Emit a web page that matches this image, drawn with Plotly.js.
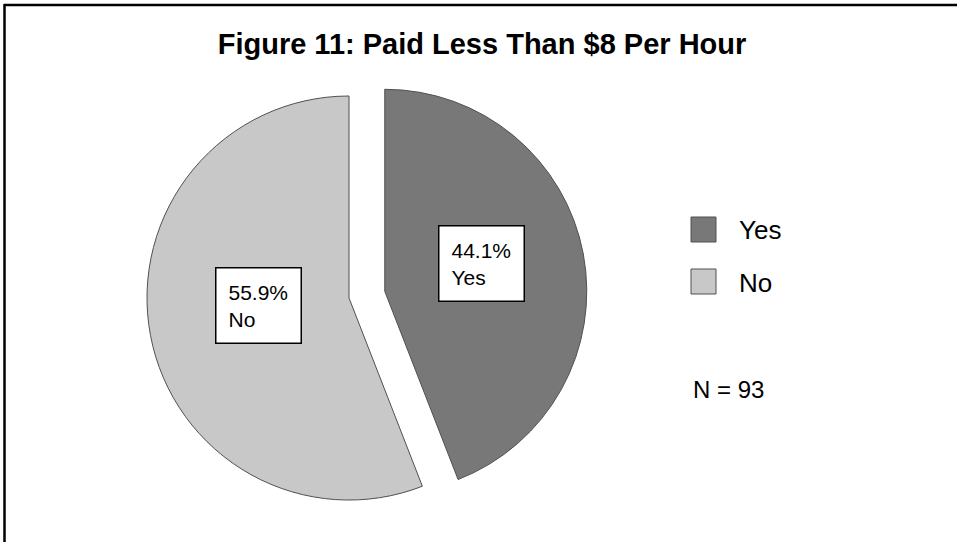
<!DOCTYPE html>
<html>
<head>
<meta charset="utf-8">
<script src="https://cdn.plot.ly/plotly-3.0.1.min.js"></script>
<style>
  html, body { margin: 0; padding: 0; background: #ffffff; }
  #chart { width: 957px; height: 542px; }
</style>
</head>
<body>
<div id="chart"></div>
<script>
// ---- data ----
const titleText = 'Figure 11: Paid Less Than $8 Per Hour';
const categories = ['Yes', 'No'];
const counts = [41, 52];          // N = 93 -> 44.1% / 55.9%
const sliceColors = ['#787878', '#c8c8c8'];
const pulls = [0.18, 0];
const noteText = 'N = 93';

// ---- geometry / style ----
const W = 957, H = 542;
const FONT = 'Arial, "Liberation Sans", Helvetica, sans-serif';
const domX = [0.1156, 0.6138];
const domY = [0.0103, 0.8900];

const total = counts.reduce((a, b) => a + b, 0);
const pct = counts.map(v => (100 * v / total).toFixed(1) + '%');

// Replicate plotly's pie geometry to place the boxed labels
const maxPull = Math.max(...pulls);
const boxW = W * (domX[1] - domX[0]);
const boxH = H * (domY[1] - domY[0]);
const r = Math.min(boxW, boxH) / 2 / (1 + maxPull);
const cx = W * (domX[0] + domX[1]) / 2;
const cy = H * (1 - domY[0]) - boxH / 2;

const annotations = [];
let cum = 0;
counts.forEach((v, i) => {
  const frac = v / total;
  const mid = (cum + frac / 2) * 2 * Math.PI; // clockwise from 12 o'clock
  cum += frac;
  const dx = Math.sin(mid), dy = -Math.cos(mid);
  const ox = cx + pulls[i] * r * dx;
  const oy = cy + pulls[i] * r * dy;
  const lx = ox + 0.47 * r * dx + 3;
  const ly = oy + 0.47 * r * dy - 10;
  annotations.push({
    xref: 'paper', yref: 'paper',
    x: lx / W, y: 1 - ly / H,
    xanchor: 'center', yanchor: 'middle',
    text: pct[i] + '<br>' + categories[i],
    align: 'left', showarrow: false,
    font: { family: FONT, size: 21, color: '#000000' },
    bgcolor: '#ffffff', bordercolor: '#000000', borderwidth: 1.5, borderpad: 12
  });
});

// custom legend (large squares)
const shapes = [];
const legX0 = 691, legSize = 25, legTop = 217, legGap = 52;
categories.forEach((c, i) => {
  const y0 = legTop + i * legGap;
  shapes.push({
    type: 'rect', xref: 'paper', yref: 'paper',
    x0: legX0 / W, x1: (legX0 + legSize) / W,
    y0: 1 - y0 / H, y1: 1 - (y0 + legSize) / H,
    fillcolor: sliceColors[i], line: { color: '#505050', width: 1 }
  });
  annotations.push({
    xref: 'paper', yref: 'paper',
    x: (legX0 + 46) / W, y: 1 - (y0 + legSize / 2 + 1) / H,
    xanchor: 'left', yanchor: 'middle', showarrow: false,
    text: c, font: { family: FONT, size: 26, color: '#000000' }
  });
});
annotations.push({
  xref: 'paper', yref: 'paper',
  x: 691 / W, y: 1 - 389 / H,
  xanchor: 'left', yanchor: 'middle', showarrow: false,
  text: noteText, font: { family: FONT, size: 24, color: '#000000' }
});

// frame lines (top and left visible)
shapes.push({ type: 'line', xref: 'paper', yref: 'paper',
  x0: 4 / W, x1: 1, y0: 1 - 5 / H, y1: 1 - 5 / H,
  line: { color: '#000000', width: 2.5 } });
shapes.push({ type: 'line', xref: 'paper', yref: 'paper',
  x0: 4.5 / W, x1: 4.5 / W, y0: 0, y1: 1 - 4 / H,
  line: { color: '#000000', width: 2.5 } });

const trace = {
  type: 'pie',
  labels: categories,
  values: counts,
  sort: false,
  direction: 'clockwise',
  rotation: 0,
  pull: pulls,
  textinfo: 'none',
  hoverinfo: 'label+percent',
  marker: { colors: sliceColors, line: { color: '#505050', width: 1 } },
  domain: { x: domX, y: domY },
  showlegend: false
};

const layout = {
  width: W, height: H,
  margin: { l: 0, r: 0, t: 0, b: 0 },
  paper_bgcolor: '#ffffff',
  plot_bgcolor: '#ffffff',
  showlegend: false,
  title: {
    text: '<b>' + titleText + '</b>',
    font: { family: FONT, size: 29, color: '#000000' },
    x: 482 / W, xanchor: 'center', xref: 'paper',
    y: 1 - 44 / H, yanchor: 'middle', yref: 'container'
  },
  shapes: shapes,
  annotations: annotations
};

Plotly.newPlot('chart', [trace], layout, { displayModeBar: false, staticPlot: true });
</script>
</body>
</html>
